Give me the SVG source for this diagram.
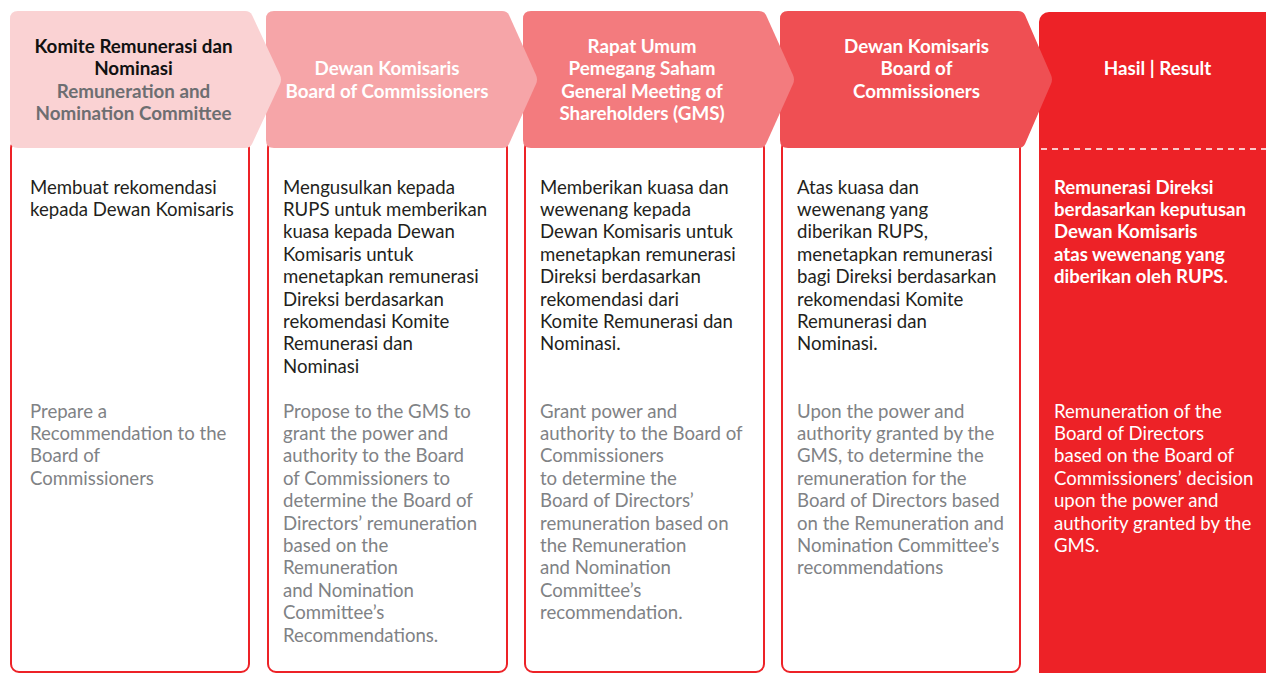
<svg xmlns="http://www.w3.org/2000/svg" width="1266" height="673" viewBox="0 0 1266 673">
<style>
.frame{fill:#fff;stroke:#ED2227;stroke-width:2}
.hd{font-family:Lato,"Liberation Sans",sans-serif;font-weight:700;font-size:18.8px;text-anchor:middle;fill:#fff}
.id{font-family:Lato,"Liberation Sans",sans-serif;font-size:18.6px;fill:#231F20}
.en{font-family:Lato,"Liberation Sans",sans-serif;font-size:18.6px;fill:#808285}
.rb{font-family:Lato,"Liberation Sans",sans-serif;font-weight:700;font-size:18.6px;fill:#fff}
.rn{font-family:Lato,"Liberation Sans",sans-serif;font-size:18.6px;fill:#fff}
</style>
<rect width="1266" height="673" fill="#fff"/>
<g id="connectors"></g>
<!-- frames -->
<rect class="frame" x="11" y="140" width="238" height="532" rx="8"/>
<rect class="frame" x="268" y="140" width="239" height="532" rx="8"/>
<rect class="frame" x="525" y="140" width="239" height="532" rx="8"/>
<rect class="frame" x="782" y="140" width="238" height="532" rx="8"/>
<g id="col5">
<rect x="1039" y="12" width="240" height="672" rx="10" fill="#ED2227"/>
<line x1="1041" y1="149" x2="1266" y2="149" stroke="#fff" stroke-width="1.5" stroke-dasharray="6 5"/>
<text class="hd" x="1157.5" y="75">Hasil | Result</text>
<text class="rb" x="1054" y="193.5">Remunerasi Direksi</text>
<text class="rb" x="1054" y="215.9">berdasarkan keputusan</text>
<text class="rb" x="1054" y="238.3">Dewan Komisaris</text>
<text class="rb" x="1054" y="260.7">atas wewenang yang</text>
<text class="rb" x="1054" y="283.1">diberikan oleh RUPS.</text>
<text class="rn" x="1054" y="417.5">Remuneration of the</text>
<text class="rn" x="1054" y="439.9">Board of Directors</text>
<text class="rn" x="1054" y="462.3">based on the Board of</text>
<text class="rn" x="1054" y="484.7">Commissioners’ decision</text>
<text class="rn" x="1054" y="507.1">upon the power and</text>
<text class="rn" x="1054" y="529.5">authority granted by the</text>
<text class="rn" x="1054" y="551.9">GMS.</text>
</g>
<g id="col4">
<path d="M788,11 H1018 Q1023,11 1025,15 L1051,75 Q1053,79.5 1051,84 L1025,144 Q1023,148 1018,148 H788 Q780,148 780,140 V19 Q780,11 788,11 Z" fill="#EF4F53"/>
<text class="hd" x="916.5" y="52.5">Dewan Komisaris</text>
<text class="hd" x="916.5" y="75">Board of</text>
<text class="hd" x="916.5" y="97.5">Commissioners</text>
<text class="id" x="797" y="193.5">Atas kuasa dan</text>
<text class="id" x="797" y="215.9">wewenang yang</text>
<text class="id" x="797" y="238.3">diberikan RUPS,</text>
<text class="id" x="797" y="260.7">menetapkan remunerasi</text>
<text class="id" x="797" y="283.1">bagi Direksi berdasarkan</text>
<text class="id" x="797" y="305.5">rekomendasi Komite</text>
<text class="id" x="797" y="327.9">Remunerasi dan</text>
<text class="id" x="797" y="350.3">Nominasi.</text>
<text class="en" x="797" y="417.5">Upon the power and</text>
<text class="en" x="797" y="439.9">authority granted by the</text>
<text class="en" x="797" y="462.3">GMS, to determine the</text>
<text class="en" x="797" y="484.7">remuneration for the</text>
<text class="en" x="797" y="507.1">Board of Directors based</text>
<text class="en" x="797" y="529.5">on the Remuneration and</text>
<text class="en" x="797" y="551.9">Nomination Committee’s</text>
<text class="en" x="797" y="574.3">recommendations</text>
</g>
<g id="col3">
<path d="M531,11 H759 Q764,11 766,15 L793,75 Q795,79.5 793,84 L766,144 Q764,148 759,148 H531 Q523,148 523,140 V19 Q523,11 531,11 Z" fill="#F37B7E"/>
<text class="hd" x="642" y="52.5">Rapat Umum</text>
<text class="hd" x="642" y="75">Pemegang Saham</text>
<text class="hd" x="642" y="97.5">General Meeting of</text>
<text class="hd" x="642" y="120">Shareholders (GMS)</text>
<text class="id" x="540" y="193.5">Memberikan kuasa dan</text>
<text class="id" x="540" y="215.9">wewenang kepada</text>
<text class="id" x="540" y="238.3">Dewan Komisaris untuk</text>
<text class="id" x="540" y="260.7">menetapkan remunerasi</text>
<text class="id" x="540" y="283.1">Direksi berdasarkan</text>
<text class="id" x="540" y="305.5">rekomendasi dari</text>
<text class="id" x="540" y="327.9">Komite Remunerasi dan</text>
<text class="id" x="540" y="350.3">Nominasi.</text>
<text class="en" x="540" y="417.5">Grant power and</text>
<text class="en" x="540" y="439.9">authority to the Board of</text>
<text class="en" x="540" y="462.3">Commissioners</text>
<text class="en" x="540" y="484.7">to determine the</text>
<text class="en" x="540" y="507.1">Board of Directors’</text>
<text class="en" x="540" y="529.5">remuneration based on</text>
<text class="en" x="540" y="551.9">the Remuneration</text>
<text class="en" x="540" y="574.3">and Nomination</text>
<text class="en" x="540" y="596.7">Committee’s</text>
<text class="en" x="540" y="619.1">recommendation.</text>
</g>
<g id="col2">
<path d="M274,11 H502 Q507,11 509,15 L536,75 Q538,79.5 536,84 L509,144 Q507,148 502,148 H274 Q266,148 266,140 V19 Q266,11 274,11 Z" fill="#F6A5A8"/>
<text class="hd" x="387" y="75">Dewan Komisaris</text>
<text class="hd" x="387" y="97.5">Board of Commissioners</text>
<text class="id" x="283" y="193.5">Mengusulkan kepada</text>
<text class="id" x="283" y="215.9">RUPS untuk memberikan</text>
<text class="id" x="283" y="238.3">kuasa kepada Dewan</text>
<text class="id" x="283" y="260.7">Komisaris untuk</text>
<text class="id" x="283" y="283.1">menetapkan remunerasi</text>
<text class="id" x="283" y="305.5">Direksi berdasarkan</text>
<text class="id" x="283" y="327.9">rekomendasi Komite</text>
<text class="id" x="283" y="350.3">Remunerasi dan</text>
<text class="id" x="283" y="372.7">Nominasi</text>
<text class="en" x="283" y="417.5">Propose to the GMS to</text>
<text class="en" x="283" y="439.9">grant the power and</text>
<text class="en" x="283" y="462.3">authority to the Board</text>
<text class="en" x="283" y="484.7">of Commissioners to</text>
<text class="en" x="283" y="507.1">determine the Board of</text>
<text class="en" x="283" y="529.5">Directors’ remuneration</text>
<text class="en" x="283" y="551.9">based on the</text>
<text class="en" x="283" y="574.3">Remuneration</text>
<text class="en" x="283" y="596.7">and Nomination</text>
<text class="en" x="283" y="619.1">Committee’s</text>
<text class="en" x="283" y="641.5">Recommendations.</text>
</g>
<g id="col1">
<path d="M18,11 H245 Q250,11 252,15 L280,75 Q282,79.5 280,84 L252,144 Q250,148 245,148 H18 Q10,148 10,140 V19 Q10,11 18,11 Z" fill="#FAD2D3"/>
<text class="hd" x="133.5" y="52.5" style="fill:#111">Komite Remunerasi dan</text>
<text class="hd" x="133.5" y="75" style="fill:#111">Nominasi</text>
<text class="hd" x="133.5" y="97.5" style="fill:#6D6E71">Remuneration and</text>
<text class="hd" x="133.5" y="120" style="fill:#6D6E71">Nomination Committee</text>
<text class="id" x="30" y="193.5">Membuat rekomendasi</text>
<text class="id" x="30" y="215.9">kepada Dewan Komisaris</text>
<text class="en" x="30" y="417.5">Prepare a</text>
<text class="en" x="30" y="439.9">Recommendation to the</text>
<text class="en" x="30" y="462.3">Board of</text>
<text class="en" x="30" y="484.7">Commissioners</text>
</g>
</svg>
